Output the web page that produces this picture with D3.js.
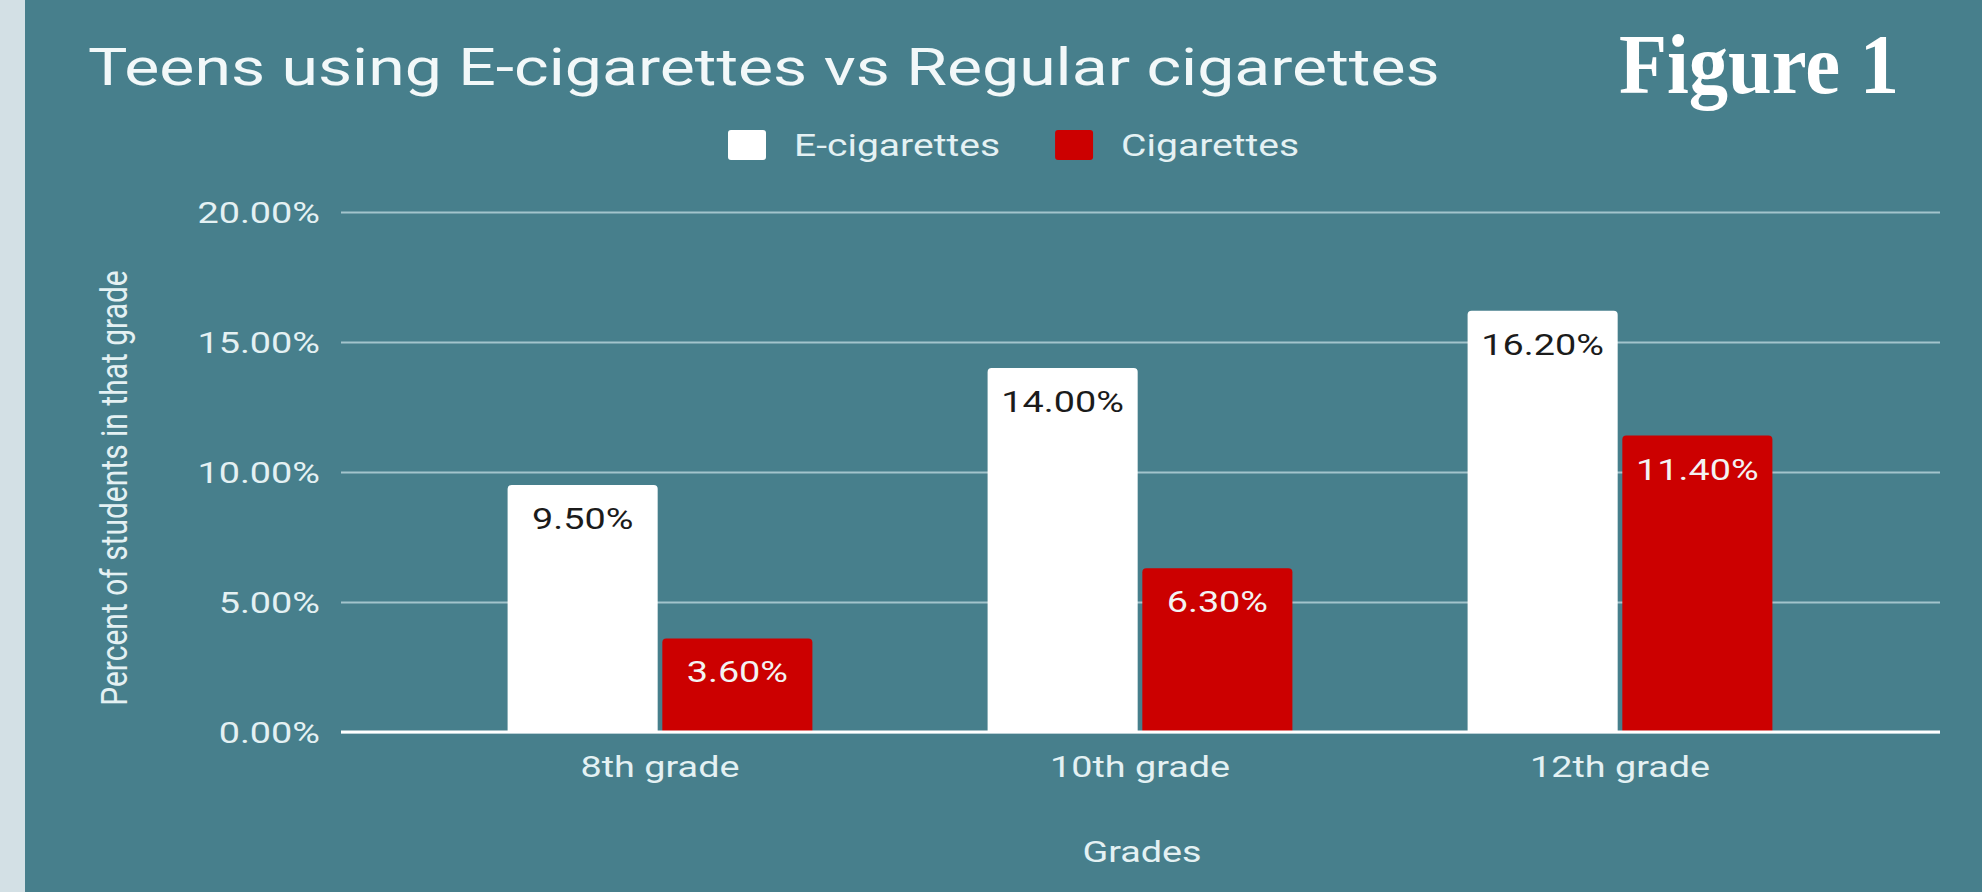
<!DOCTYPE html>
<html>
<head>
<meta charset="utf-8">
<script src="https://cdn.jsdelivr.net/npm/d3@7"></script>
<style>
  html, body { margin: 0; padding: 0; background: #d3e0e5; }
  svg { display: block; }
  text { font-family: Roboto, "Noto Sans", sans-serif; }
</style>
</head>
<body>
<svg id="chart" width="1982" height="892"></svg>
<script>
// ---- data ----
const grades = ["8th grade", "10th grade", "12th grade"];
const seriesNames = ["E-cigarettes", "Cigarettes"];
const eCigValues = [9.5, 14.0, 16.2];
const cigValues = [3.6, 6.3, 11.4];
const yTickValues = [0, 5, 10, 15, 20];
const titleText = "Teens using E-cigarettes vs Regular cigarettes";
const figureText = "Figure 1";
const xTitle = "Grades";
const yTitle = "Percent of students in that grade";

// ---- styles ----
const W = 1982, H = 892;
const SX = 1.26;               // horizontal stretch of the original chart image
const BG = "#477f8c";
const STRIP = "#d3e0e5";
const seriesColors = { "E-cigarettes": "#ffffff", "Cigarettes": "#cc0000" };
const labelColors = { "E-cigarettes": "#1b1b1b", "Cigarettes": "#f3f3f3" };
const textColor = "#e4f1f3";

const svg = d3.select("#chart");
svg.append("rect").attr("width", W).attr("height", H).attr("fill", STRIP);
svg.append("rect").attr("x", 25).attr("width", W - 25).attr("height", H).attr("fill", BG);

const gridLeft = 341, gridRight = 1940;

const y = d3.scaleLinear().domain([0, 20]).range([732, 212]);
const x0 = d3.scaleBand().domain(grades).range([420, 1860])
  .paddingInner(0.365).paddingOuter(0.1825);
const x1 = d3.scaleBand().domain(seriesNames).range([0, x0.bandwidth()]).paddingInner(0.03);

const rows = grades.map((g, i) => ({ grade: g, values: [
  { key: "E-cigarettes", value: eCigValues[i] },
  { key: "Cigarettes", value: cigValues[i] } ] }));

// y axis with gridlines
const yAxis = svg.append("g").attr("transform", `translate(${gridLeft},0)`)
  .call(d3.axisLeft(y).tickValues(yTickValues)
    .tickSize(-(gridRight - gridLeft)).tickPadding(0)
    .tickFormat(d => d.toFixed(2) + "%"));
yAxis.select(".domain").remove();
yAxis.selectAll(".tick line").attr("stroke", "#a3c4cc").attr("stroke-width", 2);
yAxis.selectAll(".tick text")
  .attr("x", -21 / SX).attr("dy", "0.35em")
  .attr("transform", `scale(${SX},1)`)
  .attr("fill", textColor).attr("font-size", 30).attr("text-anchor", "end");

// bars
function topRounded(x, yTop, w, h, r) {
  r = Math.min(r, h, w / 2);
  return `M${x},${yTop + h}V${yTop + r}Q${x},${yTop} ${x + r},${yTop}H${x + w - r}Q${x + w},${yTop} ${x + w},${yTop + r}V${yTop + h}Z`;
}
const groups = svg.append("g").selectAll("g").data(rows).join("g")
  .attr("transform", d => `translate(${x0(d.grade)},0)`);
groups.selectAll("path").data(d => d.values).join("path")
  .attr("d", d => topRounded(x1(d.key), y(d.value), x1.bandwidth(), y(0) - y(d.value), 4))
  .attr("fill", d => seriesColors[d.key]);
groups.selectAll("text").data(d => d.values).join("text")
  .attr("transform", d => `translate(${x1(d.key) + x1.bandwidth() / 2},${y(d.value) + 44}) scale(${SX},1)`)
  .attr("text-anchor", "middle").attr("font-size", 30)
  .attr("fill", d => labelColors[d.key])
  .text(d => d.value.toFixed(2) + "%");

// baseline
svg.append("line").attr("x1", gridLeft).attr("x2", gridRight)
  .attr("y1", y(0)).attr("y2", y(0)).attr("stroke", "#ffffff").attr("stroke-width", 3);

// x axis labels
const xAxis = svg.append("g").attr("transform", `translate(0,${y(0)})`)
  .call(d3.axisBottom(x0).tickSize(0).tickPadding(0));
xAxis.select(".domain").remove();
xAxis.selectAll(".tick text")
  .attr("y", 0).attr("dy", 0)
  .attr("transform", `translate(0,45) scale(${SX},1)`)
  .attr("fill", textColor).attr("font-size", 30).attr("text-anchor", "middle");

// title
svg.append("text").attr("transform", `translate(88,85) scale(${SX},1)`)
  .attr("font-size", 52.5).attr("fill", "#f2f8f9").text(titleText);

// figure label
svg.append("text").attr("x", 1619).attr("y", 93)
  .style("font-family", "'Liberation Serif', 'Times New Roman', serif")
  .attr("font-weight", "bold").attr("font-size", 84)
  .attr("textLength", 280).attr("lengthAdjust", "spacingAndGlyphs")
  .attr("fill", "#ffffff").text(figureText);

// legend
const legend = svg.append("g").attr("transform", "translate(728,145)");
let lx = 0;
seriesNames.forEach(name => {
  legend.append("rect").attr("x", lx).attr("y", -15).attr("width", 38).attr("height", 30)
    .attr("rx", 3).attr("fill", seriesColors[name]);
  const t = legend.append("text")
    .attr("transform", `translate(${lx + 66},0) scale(${SX},1)`)
    .attr("dy", "0.35em").attr("font-size", 31).attr("fill", textColor).text(name);
  lx += 66 + t.node().getComputedTextLength() * SX + 55;
});

// axis titles
svg.append("text").attr("transform", `translate(1142,862) scale(${SX},1)`)
  .attr("text-anchor", "middle").attr("font-size", 30).attr("fill", textColor).text(xTitle);
svg.append("text").attr("transform", `translate(114,488) scale(${SX},1) rotate(-90)`)
  .attr("text-anchor", "middle").attr("dy", "0.35em").attr("font-size", 30)
  .attr("fill", textColor).text(yTitle);
</script>
</body>
</html>
